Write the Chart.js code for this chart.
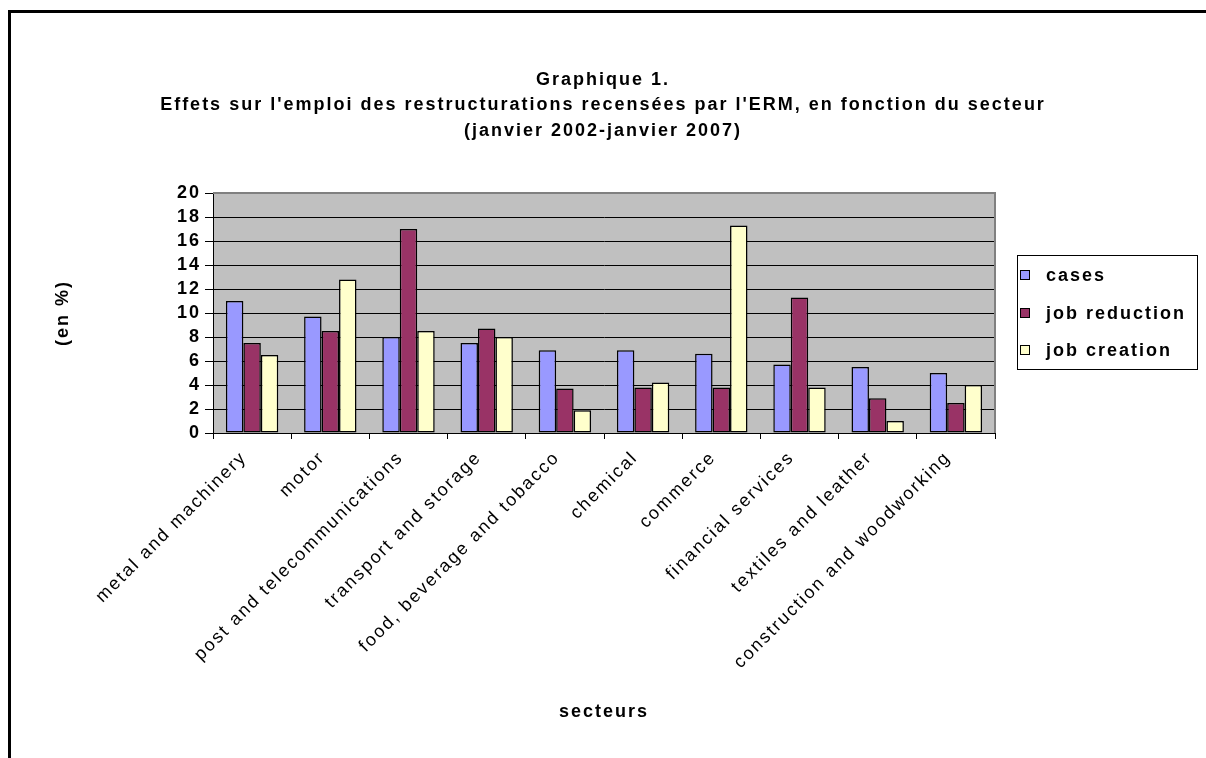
<!DOCTYPE html>
<html>
<head>
<meta charset="utf-8">
<script src="https://cdn.jsdelivr.net/npm/chart.js@4.4.1/dist/chart.umd.min.js"></script>
<style>
  html, body { margin: 0; padding: 0; background: #fff; }
  #wrap { position: relative; width: 1206px; height: 758px; overflow: hidden; }
  #frame { position: absolute; left: 8px; top: 10px; width: 1300px; height: 900px;
           border-left: 3px solid #000; border-top: 3px solid #000; }
  #grafico { position: absolute; left: 0; top: 0; }
</style>
</head>
<body>
<div id="wrap">
  <div id="frame"></div>
  <canvas id="grafico" width="1206" height="758"></canvas>
</div>
<script>
// --- DONNÉES ---
const SECTEURS = [
    'metal and machinery', 'motor', 'post and telecommunications', 'transport and storage',
    'food, beverage and tobacco', 'chemical', 'commerce', 'financial services',
    'textiles and leather', 'construction and woodworking'
];
const CASES         = [11, 9.7, 8, 7.5, 6.9, 6.9, 6.6, 5.7, 5.5, 5];
const JOB_REDUCTION = [7.5, 8.5, 17, 8.7, 3.7, 3.8, 3.8, 11.3, 2.9, 2.5];
const JOB_CREATION  = [6.5, 12.8, 8.5, 8, 1.9, 4.2, 17.3, 3.8, 1, 4];
const Y_TICKS = [0, 2, 4, 6, 8, 10, 12, 14, 16, 18, 20];

const TITRE = [
    'Graphique 1.',
    "Effets sur l'emploi des restructurations recensées par l'ERM, en fonction du secteur",
    '(janvier 2002-janvier 2007)'
];

const FONTE = '"Liberation Sans", Arial, sans-serif';
const ESPACE = '2px'; // le texte Excel est un peu espacé

// espacement des lettres sur tout le canvas
const espacement = {
    id: 'espacement',
    beforeUpdate(chart) { chart.ctx.letterSpacing = ESPACE; },
    beforeDraw(chart) { chart.ctx.letterSpacing = ESPACE; }
};

// fond gris de la zone de tracé + bord gris en haut et à droite
const fondPlot = {
    id: 'fondPlot',
    beforeDraw(chart) {
        const { ctx, chartArea: a } = chart;
        ctx.save();
        ctx.fillStyle = '#C0C0C0';
        ctx.fillRect(a.left, a.top, a.right - a.left, a.bottom - a.top);
        ctx.restore();
    },
    afterDraw(chart) {
        const { ctx, chartArea: a } = chart;
        ctx.save();
        ctx.strokeStyle = '#808080';
        ctx.lineWidth = 2;
        ctx.beginPath();
        ctx.moveTo(a.left, a.top);
        ctx.lineTo(a.right, a.top);
        ctx.lineTo(a.right, a.bottom);
        ctx.stroke();
        ctx.restore();
    }
};

// légende encadrée à droite (style Excel)
const legendeCadre = {
    id: 'legendeCadre',
    afterDraw(chart) {
        const { ctx, chartArea: a } = chart;
        const w = 180, h = 114;
        const x0 = a.right + 22;
        const y0 = Math.round((a.top + a.bottom) / 2 - h / 2) - 1;
        ctx.save();
        ctx.strokeStyle = '#000';
        ctx.lineWidth = 1;
        ctx.strokeRect(x0 + 0.5, y0 + 0.5, w, h);
        ctx.font = 'bold 18px ' + FONTE;
        ctx.textBaseline = 'middle';
        chart.data.datasets.forEach((ds, i) => {
            const cy = Math.round(y0 + 20 + i * 37.5);
            ctx.fillStyle = ds.backgroundColor;
            ctx.fillRect(x0 + 3, cy - 5, 10, 10);
            ctx.strokeRect(x0 + 3.5, cy - 4.5, 9, 9);
            ctx.fillStyle = '#000';
            ctx.fillText(ds.label, x0 + 29, cy + 1);
        });
        ctx.restore();
    }
};

function serie(label, data, couleur) {
    return {
        label: label,
        data: data,
        backgroundColor: couleur,
        borderColor: '#000',
        borderWidth: 1.5,
        borderSkipped: false,
        categoryPercentage: 0.67,
        barPercentage: 1
    };
}

const ctx = document.getElementById('grafico').getContext('2d');
new Chart(ctx, {
    type: 'bar',
    data: {
        labels: SECTEURS,
        datasets: [
            serie('cases', CASES, '#9999FF'),
            serie('job reduction', JOB_REDUCTION, '#993366'),
            serie('job creation', JOB_CREATION, '#FFFFCC')
        ]
    },
    plugins: [espacement, fondPlot, legendeCadre],
    options: {
        responsive: false,
        animation: false,
        layout: { padding: 0 },
        plugins: {
            legend: { display: false },
            tooltip: { enabled: false },
            title: {
                display: true,
                text: TITRE,
                color: '#000',
                font: { family: FONTE, size: 18, weight: 'bold', lineHeight: 1.417 },
                padding: { top: 67, bottom: 49.5 }
            }
        },
        scales: {
            x: {
                afterFit: s => { s.height = 325; },
                grid: { offset: true, drawOnChartArea: false, color: '#000', tickLength: 6 },
                border: { color: '#000', width: 1 },
                ticks: {
                    color: '#000',
                    font: { family: FONTE, size: 18 },
                    minRotation: 45,
                    maxRotation: 45,
                    autoSkip: false,
                    labelOffset: -8,
                    padding: 8
                },
                title: {
                    display: true,
                    text: 'secteurs',
                    color: '#000',
                    font: { family: FONTE, size: 18, weight: 'bold' },
                    padding: { top: 0, bottom: 35 }
                }
            },
            y: {
                min: 0,
                max: 20,
                afterFit: s => { s.width = 213; },
                afterBuildTicks: s => { s.ticks = Y_TICKS.map(v => ({ value: v })); },
                grid: {
                    color: c => (c.tick && c.tick.value === 20) ? '#808080' : '#000',
                    tickColor: '#000',
                    tickLength: 8,
                    lineWidth: 1
                },
                border: { color: '#000', width: 1 },
                ticks: {
                    color: '#000',
                    font: { family: FONTE, size: 18, weight: 'bold' },
                    autoSkip: false,
                    padding: 4
                },
                title: {
                    display: true,
                    text: '(en %)',
                    color: '#000',
                    font: { family: FONTE, size: 18, weight: 'bold' },
                    padding: { top: 52, bottom: 0 }
                }
            },
            // axe vide à droite : réserve la place de la légende
            legende: {
                type: 'linear',
                position: 'right',
                afterFit: s => { s.width = 211; },
                grid: { display: false },
                border: { display: false },
                ticks: { display: false }
            }
        }
    }
});
</script>
</body>
</html>
